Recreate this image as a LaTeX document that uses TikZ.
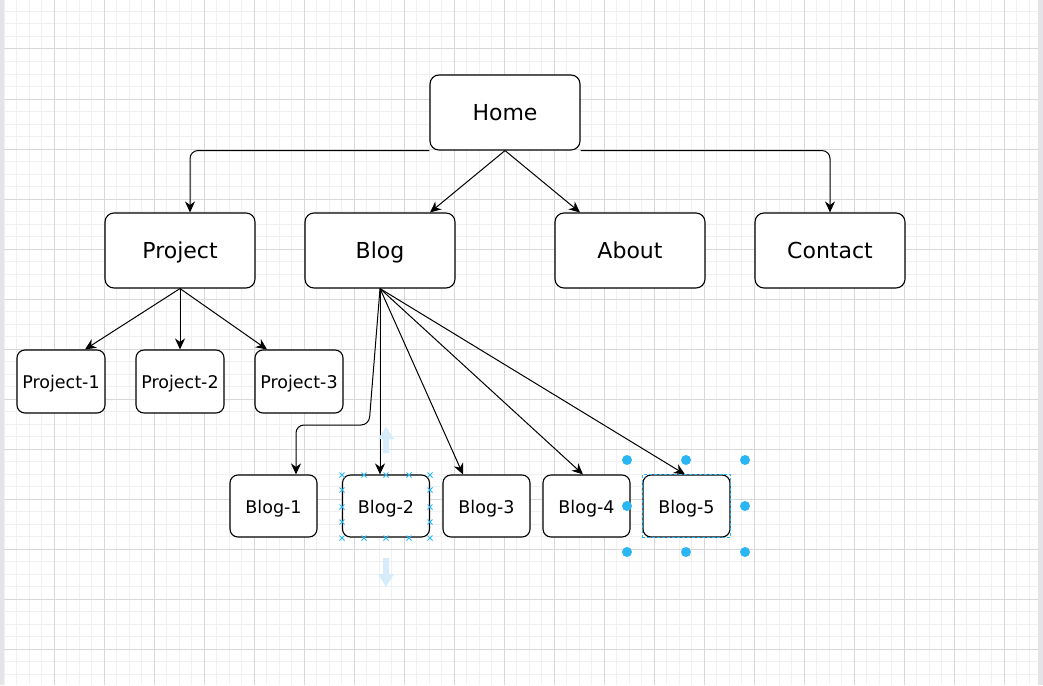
\documentclass[tikz,border=0pt]{standalone}
\usepackage{fontspec}
\setmainfont{DejaVu Sans}
\usetikzlibrary{arrows.meta}
\definecolor{minorc}{RGB}{240,240,240}
\definecolor{majorc}{RGB}{216,216,216}
\definecolor{edgec}{RGB}{228,228,232}
\definecolor{selc}{RGB}{41,182,242}
\definecolor{fadec}{RGB}{214,236,250}
\begin{document}
\begin{tikzpicture}[x=1pt,y=-1pt,line width=1.1pt,
  box/.style={draw,rounded corners=9pt,fill=white,minimum width=150pt,minimum height=75pt,inner sep=0pt,text height=18.5pt,text depth=2.5pt,font=\fontsize{22}{26}\selectfont},
  sbox/.style={draw,rounded corners=8pt,fill=white,minimum width=88pt,minimum height=63pt,inner sep=0pt,text height=15.5pt,text depth=1.5pt,font=\fontsize{17.5}{21}\selectfont},
  link/.style={-{Stealth[length=11pt,width=10pt,inset=3.5pt]},line width=1pt,rounded corners=8pt},
  dot/.style={fill=selc,draw=none}]
  \useasboundingbox (0,0) rectangle (1043,685);
  % grid
  \foreach \i in {0,...,82} \draw[minorc,line width=1pt] ({4+12.5*\i},0)--({4+12.5*\i},685);
  \foreach \i in {1,...,54} \draw[minorc,line width=1pt] (4,{-1+12.5*\i})--(1038,{-1+12.5*\i});
  \foreach \i in {1,...,20} \draw[majorc,line width=1pt] ({4+50*\i},0)--({4+50*\i},685);
  \foreach \i in {1,...,13} \draw[majorc,line width=1pt] (4,{-1+50*\i})--(1038,{-1+50*\i});
  \fill[edgec] (0,0) rectangle (4,685);
  \fill[edgec] (1038,0) rectangle (1043,685);
  % boxes
  \node[box] (home) at (505,112.5) {Home};
  \node[box] (project) at (180,250.5) {Project};
  \node[box] (blog) at (380,250.5) {Blog};
  \node[box] (about) at (630,250.5) {About};
  \node[box] (contact) at (830,250.5) {Contact};
  \node[sbox] (p1) at (61,381.5) {Project-1};
  \node[sbox] (p2) at (180,381.5) {Project-2};
  \node[sbox] (p3) at (299,381.5) {Project-3};
  \node[sbox,minimum width=87pt,minimum height=62pt] (b1) at (273.5,506) {Blog-1};
  \node[sbox,minimum width=87pt,minimum height=62pt] (b2) at (386,506) {Blog-2};
  \node[sbox,minimum width=87pt,minimum height=62pt] (b3) at (486.5,506) {Blog-3};
  \node[sbox,minimum width=87pt,minimum height=62pt] (b4) at (586.5,506) {Blog-4};
  \node[sbox,minimum width=87pt,minimum height=62pt] (b5) at (686.5,506) {Blog-5};
  % links
  \draw[link] (home.south west) -| ([xshift=10pt]project.north);
  \draw[link] (home.south east) -| (contact.north);
  \draw[link] (home.south) -- ([xshift=50pt]blog.north);
  \draw[link] (home.south) -- ([xshift=-50pt]about.north);
  \draw[link] (project.south) -- ([xshift=24pt]p1.north);
  \draw[link] (project.south) -- (p2.north);
  \draw[link] (project.south) -- ([xshift=-32pt]p3.north);
  \coordinate (k1) at (369,425);
  \coordinate (k2) at (296,425);
  \draw[link] (blog.south) -- (k1) -- (k2) -- ([xshift=22.5pt]b1.north);
  \draw[link] (blog.south) -- ([xshift=-6pt]b2.north);
  \draw[link] (blog.south) -- ([xshift=-23.5pt]b3.north);
  \draw[link] (blog.south) -- ([xshift=-3.5pt]b4.north);
  \draw[link] (blog.south) -- ([xshift=-1.5pt]b5.north);
  % selection marks
  \draw[selc,dashed,line width=1pt,dash pattern=on 3pt off 2pt] (b5.south west) rectangle (b5.north east);
  \foreach \x in {627,686,745} \foreach \y in {460,552} \fill[dot] (\x,\y) circle (5pt);
  \foreach \x in {627,745} \fill[dot] (\x,506) circle (5pt);
  \foreach \x in {342,364,386,409,430} \foreach \y in {475,538}
    \draw[selc,line width=1pt] (\x-2.5,\y-2.5)--(\x+2.5,\y+2.5) (\x-2.5,\y+2.5)--(\x+2.5,\y-2.5);
  \foreach \x in {342,430} \foreach \y in {490,507,522}
    \draw[selc,line width=1pt] (\x-2.5,\y-2.5)--(\x+2.5,\y+2.5) (\x-2.5,\y+2.5)--(\x+2.5,\y-2.5);
  \fill[fadec] (383,453)--(389,453)--(389,439)--(394,439)--(386,427)--(378,439)--(383,439)--cycle;
  \fill[fadec] (383,558)--(389,558)--(389,574)--(394,574)--(386,587)--(378,574)--(383,574)--cycle;
\end{tikzpicture}
\end{document}
